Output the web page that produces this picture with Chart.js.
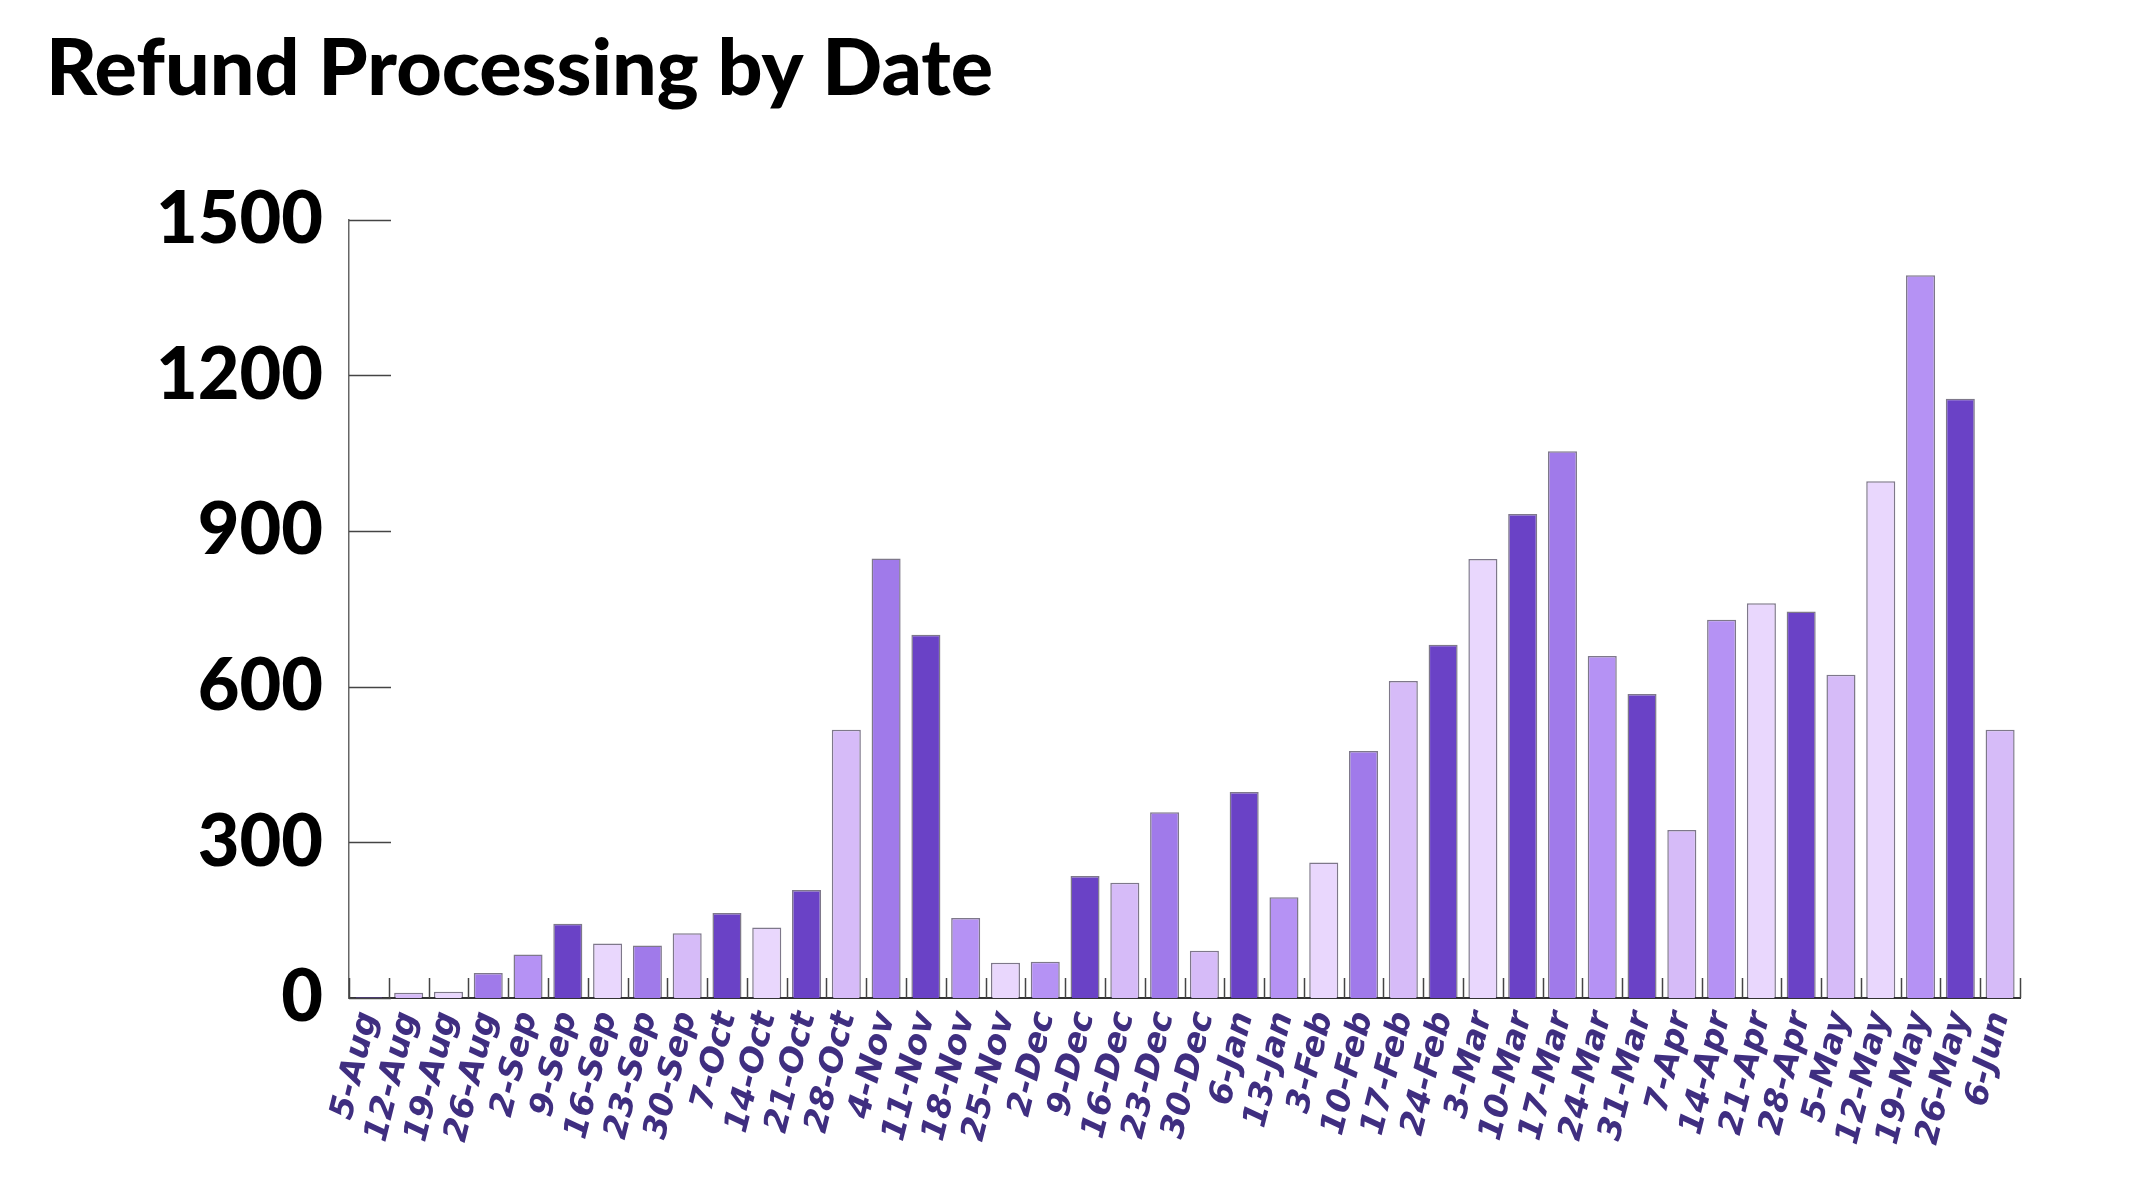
<!DOCTYPE html>
<html lang="en">
<head>
    <meta charset="UTF-8">
    <title>Refund Processing by Date</title>
    <script src="https://cdn.jsdelivr.net/npm/chart.js"></script>
    <style>
        body {
            margin: 0;
            background: #fff;
        }
        canvas {
            display: block;
        }
    </style>
</head>
<body>
    <canvas id="refundChart" width="2142" height="1199"></canvas>

    <script>
        // data
        const weeks = ['5-Aug', '12-Aug', '19-Aug', '26-Aug', '2-Sep', '9-Sep', '16-Sep', '23-Sep', '30-Sep',
            '7-Oct', '14-Oct', '21-Oct', '28-Oct', '4-Nov', '11-Nov', '18-Nov', '25-Nov', '2-Dec', '9-Dec',
            '16-Dec', '23-Dec', '30-Dec', '6-Jan', '13-Jan', '3-Feb', '10-Feb', '17-Feb', '24-Feb', '3-Mar',
            '10-Mar', '17-Mar', '24-Mar', '31-Mar', '7-Apr', '14-Apr', '21-Apr', '28-Apr', '5-May', '12-May',
            '19-May', '26-May', '6-Jun'];
        const refunds = [2, 10, 12, 48, 84, 143, 105, 101, 125, 164, 136, 208, 517, 847, 700, 154, 68, 70, 235,
            222, 358, 91, 397, 194, 261, 476, 611, 681, 846, 933, 1054, 659, 586, 324, 729, 761, 745, 623, 996,
            1393, 1155, 517];
        const yTicks = [0, 300, 600, 900, 1200, 1500];

        // colours
        const shades = ['#6a42c6', '#a07aea', '#b592f4', '#d6bbf8', '#e9d7fd'];
        const shadeOfBar = [0, 3, 4, 1, 2, 0, 4, 1, 3, 0, 4, 0, 3, 1, 0, 2, 4, 2, 0, 3, 1, 3, 0, 2, 4, 1, 3, 0,
            4, 0, 1, 2, 0, 3, 2, 4, 0, 3, 4, 2, 0, 3];

        // short tick marks drawn inside the plot, like the original
        const innerTicks = {
            id: 'innerTicks',
            afterDraw(chart) {
                const { ctx, chartArea, scales: { x, y } } = chart;
                ctx.save();
                ctx.lineWidth = 1.5;
                ctx.strokeStyle = '#444';
                ctx.beginPath();
                yTicks.forEach(v => {
                    const py = Math.round(y.getPixelForValue(v)) + 0.5;
                    ctx.moveTo(chartArea.left, py);
                    ctx.lineTo(chartArea.left + 42, py);
                });
                for (let i = 0; i <= weeks.length; i++) {
                    const px = Math.round(x.getPixelForValue(i - 0.5)) + 0.5;
                    ctx.moveTo(px, chartArea.bottom);
                    ctx.lineTo(px, chartArea.bottom - 20);
                }
                ctx.stroke();
                ctx.restore();
            }
        };

        const ctx = document.getElementById('refundChart').getContext('2d');
        new Chart(ctx, {
            type: 'bar',
            data: {
                labels: weeks,
                datasets: [{
                    label: 'Refunds',
                    data: refunds,
                    backgroundColor: shadeOfBar.map(i => shades[i]),
                    borderColor: 'rgba(40, 30, 60, 0.6)',
                    borderWidth: 1.5,
                    barPercentage: 0.73,
                    categoryPercentage: 1
                }]
            },
            options: {
                responsive: false,
                animation: false,
                layout: {
                    padding: { left: 46, right: 122, top: 0, bottom: 0 }
                },
                plugins: {
                    legend: { display: false },
                    tooltip: { enabled: false },
                    title: {
                        display: true,
                        text: 'Refund Processing by Date',
                        align: 'start',
                        color: '#000',
                        font: { family: 'Lato', size: 79, weight: '900' },
                        padding: { top: 22, bottom: 103 }
                    }
                },
                scales: {
                    x: {
                        grid: { display: false, drawTicks: false },
                        border: { display: true, color: '#333', width: 2 },
                        ticks: {
                            autoSkip: false,
                            minRotation: 76,
                            maxRotation: 76,
                            padding: 10,
                            color: '#3f2e80',
                            font: { family: 'DejaVu Sans', size: 33, weight: 'bold', style: 'italic' }
                        },
                        afterFit(scale) { scale.height = 201; }
                    },
                    y: {
                        min: 0,
                        max: 1500,
                        afterBuildTicks(scale) { scale.ticks = yTicks.map(v => ({ value: v })); },
                        grid: { display: false, drawTicks: false },
                        border: { display: true, color: '#666', width: 1.5 },
                        ticks: {
                            padding: 26,
                            color: '#000',
                            font: { family: 'Lato', size: 72, weight: '900' },
                            callback: v => String(v)
                        },
                        afterFit(scale) { scale.width = 303; }
                    }
                }
            },
            plugins: [innerTicks]
        });
    </script>
</body>
</html>
